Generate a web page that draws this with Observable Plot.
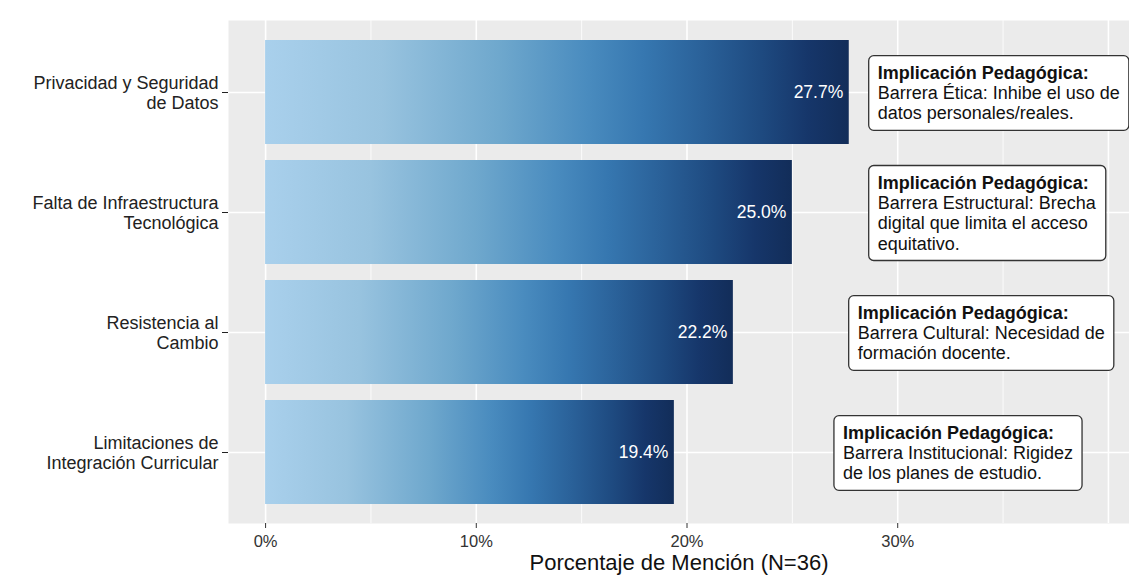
<!DOCTYPE html>
<html><head><meta charset="utf-8">
<script src="https://cdn.jsdelivr.net/npm/d3@7"></script>
<script src="https://cdn.jsdelivr.net/npm/@observablehq/plot@0.6"></script>
<style>
html,body{margin:0;padding:0;background:#fff;overflow:hidden;}
#chart svg{display:block;}
</style></head><body><div id="chart"></div>
<script>
const categories = [
  "Privacidad y Seguridad de Datos",
  "Falta de Infraestructura Tecnológica",
  "Resistencia al Cambio",
  "Limitaciones de Integración Curricular"
];
const categoryLines = [
  ["Privacidad y Seguridad", "de Datos"],
  ["Falta de Infraestructura", "Tecnológica"],
  ["Resistencia al", "Cambio"],
  ["Limitaciones de", "Integración Curricular"]
];
const percentages = [27.7, 25.0, 22.2, 19.4];
const percentLabels = ["27.7%", "25.0%", "22.2%", "19.4%"];
const noteTitle = "Implicación Pedagógica:";
const noteLines = [
  ["Barrera Ética: Inhibe el uso de", "datos personales/reales."],
  ["Barrera Estructural: Brecha", "digital que limita el acceso", "equitativo."],
  ["Barrera Cultural: Necesidad de", "formación docente."],
  ["Barrera Institucional: Rigidez", "de los planes de estudio."]
];
const xTicks = [0, 10, 20, 30];
const xTickLabels = ["0%", "10%", "20%", "30%"];
const xMajorGrid = [0, 10, 20, 30, 40];
const xMinorGrid = [5, 15, 25, 35];
const axisTitle = "Porcentaje de Mención (N=36)";
// annotation anchors (data units on the x scale)
const noteX = [29.05, 29.05, 28.1, 27.4];

const rows = categories.map((c, i) => ({
  category: c,
  value: percentages[i],
  label: percentLabels[i],
  note: [noteTitle, ...noteLines[i]].join("\n"),
  noteX: noteX[i]
}));

const FONT = '"Liberation Sans", Arial, Helvetica, sans-serif';
const gradStops = [
  [0, "#a9d0ec"], [0.2, "#98c3df"], [0.4, "#6fa8cd"], [0.55, "#4a8cbf"],
  [0.65, "#3677b0"], [0.75, "#2a6199"], [0.85, "#1e4a80"], [0.93, "#16366a"], [1, "#122d59"]
];

const defsMark = () => {
  const defs = d3.create("svg:defs");
  const g = defs.append("linearGradient").attr("id", "barGrad")
    .attr("x1", 0).attr("x2", 1).attr("y1", 0).attr("y2", 0);
  gradStops.forEach(([o, c]) => g.append("stop").attr("offset", o).attr("stop-color", c));
  return defs.node();
};

const plot = Plot.plot({
  width: 1129, height: 576,
  marginLeft: 228, marginRight: 0, marginTop: 20, marginBottom: 53,
  style: {fontFamily: FONT, background: "#fff", overflow: "visible", maxWidth: "none", width: "1129px", height: "576px"},
  x: {domain: [-1.76, 41], axis: null},
  y: {domain: categories, paddingInner: 0.137, paddingOuter: 0.155, axis: null},
  marks: [
    defsMark,
    Plot.frame({fill: "#ebebeb", stroke: null}),
    Plot.gridX(xMinorGrid, {stroke: "#fff", strokeOpacity: 1, strokeWidth: 0.8}),
    Plot.gridX(xMajorGrid, {stroke: "#fff", strokeOpacity: 1, strokeWidth: 1.6}),
    Plot.gridY({stroke: "#fff", strokeOpacity: 1, strokeWidth: 1.6}),
    Plot.barX(rows, {x: "value", y: "category", fill: "url(#barGrad)"}),
    Plot.text(rows, {x: "value", y: "category", text: "label", textAnchor: "end", dx: -6, fill: "#fff", fontSize: 17.5}),
    Plot.text(rows, {x: "noteX", y: "category", text: "note", textAnchor: "start", lineAnchor: "middle", lineHeight: 1.13, fontSize: 18, fill: "#111", className: "note"}),
    Plot.axisY({tickFormat: d => categoryLines[categories.indexOf(d)].join("\n"), tickSize: 6, tickPadding: 4, fontSize: 18, lineHeight: 1.1, color: "#222", label: null}),
    Plot.axisX(xTicks, {tickFormat: d => xTickLabels[xTicks.indexOf(d)], tickSize: 5, tickPadding: 7, fontSize: 16.5, color: "#333", label: null}),
    Plot.text([axisTitle], {frameAnchor: "bottom", dy: 39, fontSize: 22, lineAnchor: "middle", fill: "#111"})
  ]
});

document.getElementById("chart").appendChild(plot);

// Bold first line & draw label boxes around annotation texts
d3.select(plot).selectAll("g.note text").each(function () {
  const t = d3.select(this);
  t.select("tspan").attr("font-weight", "bold");
  const bb = this.getBBox();
  const padX = 9, padY = 7;
  d3.select(this.parentNode).insert("rect", () => this)
    .attr("transform", t.attr("transform"))
    .attr("x", bb.x - padX).attr("y", bb.y - padY)
    .attr("width", bb.width + 2 * padX).attr("height", bb.height + 2 * padY)
    .attr("rx", 5).attr("ry", 5)
    .attr("fill", "#fff").attr("stroke", "#333").attr("stroke-width", 1.3);
});
</script></body></html>
